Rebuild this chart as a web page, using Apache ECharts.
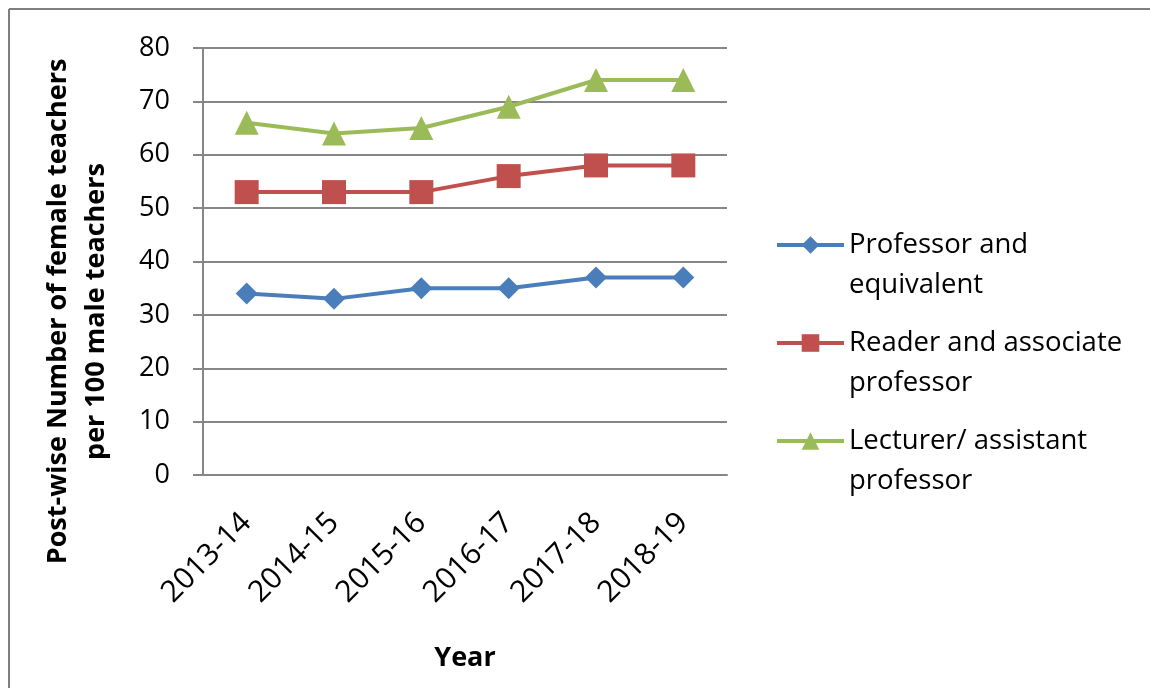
<!DOCTYPE html>
<html>
<head>
<meta charset="utf-8">
<script src="https://cdn.jsdelivr.net/npm/echarts@6/dist/echarts.min.js"></script>
<style>
  html, body { margin: 0; padding: 0; background: #ffffff; }
  #chart { width: 1150px; height: 688px; }
</style>
</head>
<body>
<div id="chart"></div>
<script>
// Academic years on the category axis
const years = ['2013-14', '2014-15', '2015-16', '2016-17', '2017-18', '2018-19'];

// Female teachers per 100 male teachers, by post
const professorValues = [34, 33, 35, 35, 37, 37];
const readerValues = [53, 53, 53, 56, 58, 58];
const lecturerValues = [66, 64, 65, 69, 74, 74];

// Series names (two-line legend entries)
const seriesNames = [
  'Professor and\nequivalent',
  'Reader and associate\nprofessor',
  'Lecturer/ assistant\nprofessor'
];

// Value axis range
const yMin = 0, yMax = 80, yStep = 10;

const FONT = '"Open Sans", Lato, sans-serif';
const colors = ['#4a7ebb', '#c0504d', '#9bbb59'];

const chart = echarts.init(document.getElementById('chart'), null, { renderer: 'canvas' });

// One legend block per series; a leading blank line puts the icon beside the first text line
function legendFor(i, iconY) {
  return {
    data: [seriesNames[i]],
    left: 775,
    top: iconY - 60,
    padding: 0,
    itemWidth: 67,
    itemHeight: 22,
    itemGap: 0,
    selectedMode: false,
    lineStyle: { width: 4 },
    formatter: name => '\n' + name,
    textStyle: {
      fontFamily: FONT,
      fontSize: 27.5,
      color: '#000',
      lineHeight: 40
    }
  };
}

const option = {
  animation: false,
  backgroundColor: '#ffffff',
  grid: { left: 203, right: 423, top: 48, bottom: 213, containLabel: false, outerBoundsMode: 'none' },
  legend: [legendFor(0, 245), legendFor(1, 343), legendFor(2, 441)],
  xAxis: {
    type: 'category',
    data: years,
    boundaryGap: true,
    name: 'Year',
    nameLocation: 'middle',
    nameGap: 170,
    nameTextStyle: { fontFamily: FONT, fontSize: 27, fontWeight: 'bold', color: '#000' },
    axisLine: { lineStyle: { color: '#868686', width: 2 } },
    axisTick: { show: false },
    axisLabel: { rotate: 45, margin: 43, fontFamily: FONT, fontSize: 30, color: '#000', interval: 0 }
  },
  yAxis: {
    type: 'value',
    min: yMin,
    max: yMax,
    interval: yStep,
    name: 'Post-wise Number of female teachers\nper 100 male teachers',
    nameLocation: 'middle',
    nameGap: 88,
    nameTextStyle: {
      fontFamily: FONT, fontSize: 27, fontWeight: 'bold', color: '#000',
      lineHeight: 38, padding: [0, 100, 0, 0]
    },
    axisLine: { show: true, lineStyle: { color: '#868686', width: 2 } },
    axisTick: { show: true, length: 10, lineStyle: { color: '#868686', width: 2 } },
    axisLabel: { margin: 33, fontFamily: FONT, fontSize: 27, color: '#000' },
    splitLine: { lineStyle: { color: '#868686', width: 2 } }
  },
  series: [
    {
      name: seriesNames[0], type: 'line', data: professorValues,
      symbol: 'diamond', symbolSize: 22,
      lineStyle: { color: colors[0], width: 4 },
      itemStyle: { color: colors[0] }
    },
    {
      name: seriesNames[1], type: 'line', data: readerValues,
      symbol: 'rect', symbolSize: 24,
      lineStyle: { color: colors[1], width: 4 },
      itemStyle: { color: colors[1] }
    },
    {
      name: seriesNames[2], type: 'line', data: lecturerValues,
      symbol: 'triangle', symbolSize: 24,
      lineStyle: { color: colors[2], width: 4 },
      itemStyle: { color: colors[2] }
    }
  ],
  graphic: [
    // frame: top and left edges
    { type: 'line', shape: { x1: 9, y1: 9, x2: 1150, y2: 9 }, style: { stroke: '#7f7f7f', lineWidth: 2 }, silent: true },
    { type: 'line', shape: { x1: 9, y1: 9, x2: 9, y2: 688 }, style: { stroke: '#7f7f7f', lineWidth: 2 }, silent: true }
  ]
};

chart.setOption(option);
</script>
</body>
</html>
